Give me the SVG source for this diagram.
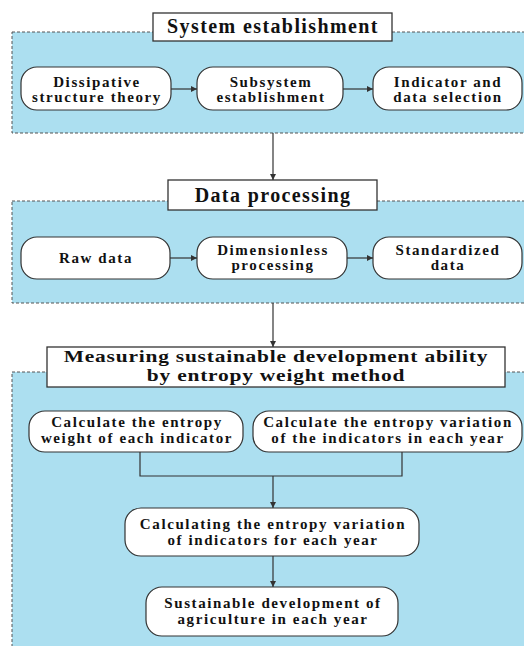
<svg xmlns="http://www.w3.org/2000/svg" width="524" height="646" viewBox="0 0 524 646">
<defs>
<style>
.panel{fill:#acdff0;stroke:#555;stroke-width:1;stroke-dasharray:3,2}
.title{fill:#fff;stroke:#333;stroke-width:1.3}
.node{fill:#fff;stroke:#333;stroke-width:1.2}
text{font-family:"Liberation Serif","Times New Roman",serif;font-weight:bold;fill:#111;text-anchor:middle}
.t{font-size:20px;letter-spacing:1.4px}
.t3{font-size:16.5px;letter-spacing:0.6px}
.n{font-size:15px;letter-spacing:1.6px}
.c{fill:none;stroke:#333;stroke-width:1.2}
</style>
<marker id="ah" viewBox="0 0 6 6" refX="6" refY="3" markerWidth="5" markerHeight="5" orient="auto">
<path d="M0,0 L6,3 L0,6 z" fill="#333"/>
</marker>
</defs>
<rect width="524" height="646" fill="#fff"/>
<g id="panel1"><rect class="panel" x="12" y="32" width="530" height="101"/></g>
<g id="panel2"><rect class="panel" x="12" y="201" width="530" height="102"/></g>
<g id="panel3"><rect class="panel" x="12" y="372" width="530" height="290"/></g>
<g id="connectors">
<line class="c" x1="171" y1="89" x2="197" y2="89" marker-end="url(#ah)"/>
<line class="c" x1="343" y1="89" x2="373" y2="89" marker-end="url(#ah)"/>
<line class="c" x1="273" y1="133" x2="273" y2="180" marker-end="url(#ah)"/>
<line class="c" x1="170" y1="258" x2="197" y2="258" marker-end="url(#ah)"/>
<line class="c" x1="347" y1="258" x2="373" y2="258" marker-end="url(#ah)"/>
<line class="c" x1="273" y1="303" x2="273" y2="347" marker-end="url(#ah)"/>
<polyline class="c" points="140,452 140,476 402,476 402,452"/>
<line class="c" x1="273" y1="476" x2="273" y2="508" marker-end="url(#ah)"/>
<line class="c" x1="273" y1="556" x2="273" y2="587" marker-end="url(#ah)"/>
</g>
<g id="title1"><rect class="title" x="153" y="13" width="239" height="28"/><text class="t" x="273" y="33">System establishment</text></g>
<g id="n1"><rect class="node" x="21" y="67" width="150" height="43" rx="16"/><text class="n" x="97" y="87">Dissipative</text><text class="n" x="97" y="102">structure theory</text></g>
<g id="n2"><rect class="node" x="197" y="67" width="146" height="43" rx="16"/><text class="n" x="271" y="87">Subsystem</text><text class="n" x="271" y="102">establishment</text></g>
<g id="n3"><rect class="node" x="373" y="67" width="149" height="43" rx="16"/><text class="n" x="448" y="87">Indicator and</text><text class="n" x="448" y="102">data selection</text></g>
<g id="title2"><rect class="title" x="168" y="180" width="209" height="30"/><text class="t" x="273" y="202">Data processing</text></g>
<g id="n4"><rect class="node" x="21" y="237" width="149" height="42" rx="16"/><text class="n" x="96" y="263">Raw data</text></g>
<g id="n5"><rect class="node" x="197" y="237" width="150" height="42" rx="16"/><text class="n" x="273" y="255">Dimensionless</text><text class="n" x="273" y="270">processing</text></g>
<g id="n6"><rect class="node" x="373" y="237" width="149" height="42" rx="16"/><text class="n" x="448" y="255">Standardized</text><text class="n" x="448" y="270">data</text></g>
<g id="title3"><rect class="title" x="47" y="347" width="458" height="40"/>
<g transform="translate(276,0) scale(1.3,1)"><text class="t3" x="0" y="362">Measuring sustainable development ability</text><text class="t3" x="0" y="381">by entropy weight method</text></g></g>
<g id="n7"><rect class="node" x="29" y="411" width="214" height="41" rx="16"/><text class="n" x="137" y="427">Calculate the entropy</text><text class="n" x="137" y="443">weight of each indicator</text></g>
<g id="n8"><rect class="node" x="253" y="411" width="269" height="41" rx="16"/><text class="n" x="388" y="427">Calculate the entropy variation</text><text class="n" x="388" y="443">of the indicators in each year</text></g>
<g id="n9"><rect class="node" x="125" y="508" width="294" height="48" rx="16"/><text class="n" x="273" y="529">Calculating the entropy variation</text><text class="n" x="273" y="545">of indicators for each year</text></g>
<g id="n10"><rect class="node" x="146" y="587" width="252" height="49" rx="16"/><text class="n" x="273" y="608">Sustainable development of</text><text class="n" x="273" y="624">agriculture in each year</text></g>
</svg>
